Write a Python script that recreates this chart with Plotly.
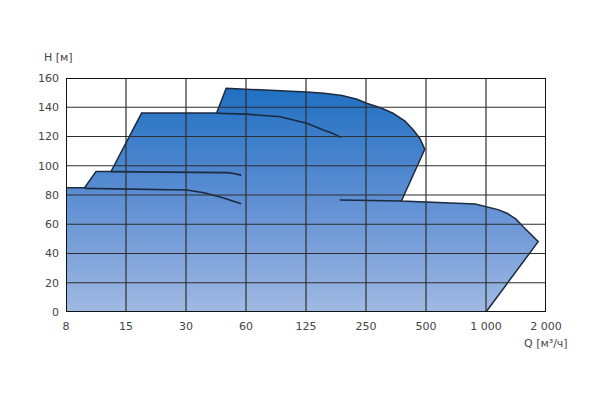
import plotly.graph_objects as go

# Tick labels of flow axis (evenly spaced positions)
q_labels = ["8", "15", "30", "60", "125", "250", "500", "1 000", "2 000"]
q_pos = list(range(len(q_labels)))
h_ticks = [0, 20, 40, 60, 80, 100, 120, 140, 160]

# Envelope outline (x in axis-grid position units, y in metres)
env_x = [0, 0, 0.31, 0.5, 0.75, 1.26, 2.51, 2.67, 4.01, 4.3, 4.6, 4.85, 5.01, 5.25, 5.45, 5.65,
         5.79, 5.9, 5.98, 5.59, 6.82, 7.01, 7.2, 7.35, 7.5, 7.62, 7.75, 7.87, 7.0, 0]
env_y = [0, 85, 85, 96, 96, 136, 136, 153, 150.4, 149.6, 148, 145.5, 142.7, 139.5, 135.9, 130.5,
         124.4, 118.5, 111.2, 75.9, 73.8, 72, 70, 67.5, 63.5, 58.3, 53, 48.1, 0, 0]

# Interior pump curves
c1_x = [0.31, 1.0, 1.6, 2.01, 2.3, 2.6, 2.92]
c1_y = [84.5, 84.2, 83.8, 83.4, 81.5, 78.3, 74.0]
c2_x = [0.75, 1.5, 2.2, 2.68, 2.8, 2.92]
c2_y = [96, 95.8, 95.5, 95.3, 94.7, 93.6]
c3_x = [2.51, 3.0, 3.57, 4.01, 4.29, 4.45, 4.58]
c3_y = [135.9, 135.3, 133.5, 129.0, 124.4, 122.0, 119.4]
c4_x = [4.56, 5.0, 5.59]
c4_y = [76.6, 76.3, 75.9]

fig = go.Figure()
fig.add_trace(go.Scatter(
    x=env_x, y=env_y, mode="lines", fill="toself",
    line=dict(color="#1b2a3f", width=1.5),
    fillgradient=dict(type="vertical", start=0, stop=153,
                      colorscale=[[0, "#a0b9e2"], [0.5, "#5f8fd3"], [1, "#2070c2"]]),
    hoverinfo="skip", showlegend=False))

for cx, cy in [(c1_x, c1_y), (c2_x, c2_y), (c3_x, c3_y), (c4_x, c4_y)]:
    fig.add_trace(go.Scatter(x=cx, y=cy, mode="lines", line=dict(color="#1b2a3f", width=1.6),
                             hoverinfo="skip", showlegend=False))

shapes = []
for p in q_pos[1:-1]:
    shapes.append(dict(type="line", xref="x", yref="y", x0=p, x1=p, y0=0, y1=160,
                       line=dict(color="#2e2e2e", width=1.2), layer="above"))
for h in h_ticks[1:-1]:
    shapes.append(dict(type="line", xref="x", yref="y", x0=0, x1=8, y0=h, y1=h,
                       line=dict(color="#2e2e2e", width=1.2), layer="above"))
shapes.append(dict(type="rect", xref="x", yref="y", x0=0, x1=8, y0=0, y1=160,
                   line=dict(color="#111111", width=2), layer="above"))

fig.update_layout(
    width=592, height=402,
    margin=dict(l=58, r=54, t=70, b=98, autoexpand=False),
    paper_bgcolor="white", plot_bgcolor="white",
    font=dict(family="DejaVu Sans", size=11, color="#444444"),
    shapes=shapes,
    xaxis=dict(range=[0, 8], tickvals=q_pos, ticktext=q_labels, showgrid=False,
               zeroline=False, showline=False, ticks="", automargin=False,
               ticklabelstandoff=6),
    yaxis=dict(range=[0, 160], tickvals=h_ticks, showgrid=False, zeroline=False,
               showline=False, ticks="", automargin=False, ticklabelstandoff=6),
    annotations=[
        dict(text="H [м]", xref="paper", yref="paper", x=-0.015, y=1.05, xanchor="center",
             yanchor="bottom", showarrow=False, font=dict(size=11, color="#444444")),
        dict(text="Q [м³/ч]", xref="paper", yref="paper", x=1.0, y=-0.1, xanchor="center",
             yanchor="top", showarrow=False, font=dict(size=11, color="#444444")),
    ],
)

fig.write_html("out.html")
